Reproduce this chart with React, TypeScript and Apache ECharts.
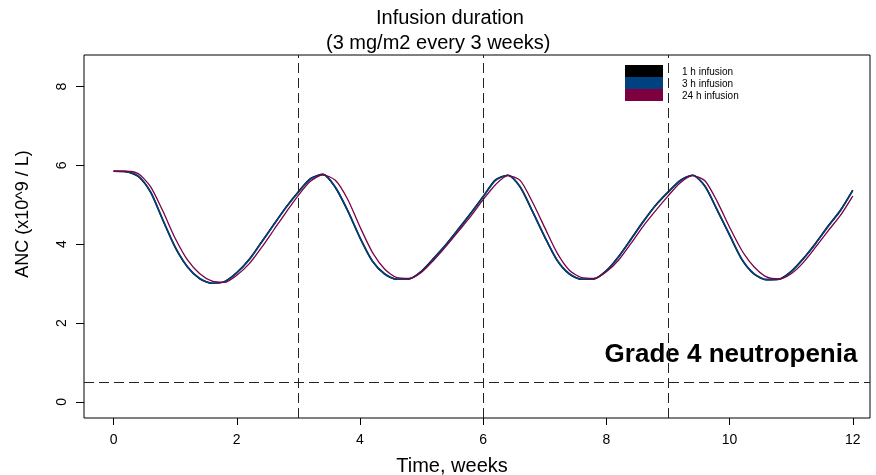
import { useEffect, useRef } from "react";
import * as echarts from "echarts";

const weeks = [
  0, 0.2, 0.4, 0.6, 0.8, 1, 1.2, 1.4, 1.6, 1.8, 2, 2.2, 2.4, 2.6, 2.8, 3, 3.2, 3.4, 3.6, 3.8,
  4, 4.2, 4.4, 4.6, 4.8, 5, 5.2, 5.4, 5.6, 5.8, 6, 6.2, 6.4, 6.6, 6.8, 7, 7.2, 7.4, 7.6, 7.8,
  8, 8.2, 8.4, 8.6, 8.8, 9, 9.2, 9.4, 9.6, 9.8, 10, 10.2, 10.4, 10.6, 10.8, 11, 11.2, 11.4, 11.6, 11.8,
  12,
];

const anc1h = [
  5.85, 5.84, 5.72, 5.32, 4.61, 3.92, 3.42, 3.12, 3.01, 3.05, 3.28, 3.61, 4.05, 4.5, 4.94, 5.33, 5.67, 5.77, 5.44, 4.85,
  4.16, 3.57, 3.24, 3.11, 3.12, 3.32, 3.65, 4.0, 4.39, 4.79, 5.21, 5.63, 5.75, 5.45, 4.83, 4.18, 3.59, 3.24, 3.11, 3.12,
  3.33, 3.69, 4.13, 4.58, 4.99, 5.32, 5.62, 5.75, 5.47, 4.86, 4.23, 3.61, 3.24, 3.1, 3.11, 3.31, 3.64, 4.03, 4.46, 4.86,
  5.37,
];

const anc3h = [
  5.85, 5.84, 5.73, 5.33, 4.62, 3.93, 3.43, 3.13, 3.01, 3.05, 3.27, 3.6, 4.04, 4.49, 4.93, 5.32, 5.66, 5.77, 5.45, 4.86,
  4.17, 3.58, 3.25, 3.11, 3.12, 3.31, 3.64, 3.99, 4.38, 4.78, 5.2, 5.62, 5.75, 5.46, 4.84, 4.19, 3.6, 3.25, 3.11, 3.12,
  3.32, 3.68, 4.12, 4.57, 4.98, 5.31, 5.61, 5.75, 5.48, 4.87, 4.24, 3.62, 3.25, 3.1, 3.11, 3.3, 3.63, 4.02, 4.45, 4.85,
  5.36,
];

const anc24h = [
  5.85, 5.85, 5.79, 5.46, 4.84, 4.15, 3.6, 3.25, 3.06, 3.03, 3.21, 3.5, 3.91, 4.36, 4.81, 5.24, 5.6, 5.76, 5.62, 5.14,
  4.44, 3.8, 3.37, 3.15, 3.13, 3.29, 3.6, 3.95, 4.33, 4.71, 5.13, 5.51, 5.74, 5.62, 5.07, 4.42, 3.78, 3.34, 3.15, 3.13,
  3.3, 3.6, 4.02, 4.46, 4.85, 5.22, 5.56, 5.74, 5.61, 5.08, 4.43, 3.84, 3.42, 3.17, 3.12, 3.25, 3.54, 3.93, 4.34, 4.73,
  5.22,
];

const seriesNames = ["1 h infusion", "3 h infusion", "24 h infusion"];
const seriesColors = ["#000000", "#00417F", "#7F0040"];
const doseTimes = [3, 6, 9];
const grade4Threshold = 0.5;
const xTicks = [0, 2, 4, 6, 8, 10, 12];
const yTicks = [0, 2, 4, 6, 8];

export default function App() {
  const ref = useRef<HTMLDivElement>(null);

  useEffect(() => {
    if (!ref.current) return;
    const chart = echarts.init(ref.current, null, { renderer: "svg" });
    const font = "'Liberation Sans', Arial, Helvetica, sans-serif";
    const valueSets = [anc1h, anc3h, anc24h];

    const markLineData: any[] = [
      ...doseTimes.map((t) => ({ xAxis: t })),
      { yAxis: grade4Threshold },
    ];

    chart.setOption({
      animation: false,
      textStyle: { fontFamily: font },
      title: [
        {
          text: "Infusion duration",
          left: 376,
          top: 7,
          padding: 0,
          textStyle: { fontSize: 20, fontWeight: "normal", color: "#000", fontFamily: font },
        },
        {
          text: "(3 mg/m2 every 3 weeks)",
          left: 326,
          top: 32,
          padding: 0,
          textStyle: { fontSize: 20, fontWeight: "normal", color: "#000", fontFamily: font },
        },
      ],
      legend: {
        orient: "vertical",
        left: 625,
        top: 65,
        padding: 0,
        itemGap: 0,
        itemWidth: 38,
        itemHeight: 12,
        icon: "rect",
        data: seriesNames,
        textStyle: {
          fontSize: 10,
          color: "#000",
          lineHeight: 12,
          padding: [0, 0, 0, 14],
          fontFamily: font,
        },
      },
      grid: {
        left: 84,
        top: 55,
        width: 786,
        height: 363,
        show: true,
        containLabel: false,
        outerBoundsMode: "none",
        borderColor: "#000",
        borderWidth: 1,
        backgroundColor: "transparent",
      },
      xAxis: {
        type: "value",
        min: -0.48,
        max: 12.28,
        name: "Time, weeks",
        nameLocation: "middle",
        nameGap: 37,
        nameTextStyle: { fontSize: 20, color: "#000", padding: [0, 50, 0, 0], fontFamily: font },
        axisLine: { show: false, onZero: false },
        axisTick: {
          show: true,
          inside: false,
          length: 7,
          lineStyle: { color: "#000" },
          customValues: xTicks,
        },
        axisLabel: { customValues: xTicks, fontSize: 14, color: "#000", margin: 14, fontFamily: font },
        splitLine: { show: false },
      },
      yAxis: {
        type: "value",
        min: -0.41,
        max: 8.8,
        name: "ANC (x10^9 / L)",
        nameLocation: "middle",
        nameGap: 53,
        nameTextStyle: { fontSize: 18, color: "#000", padding: [0, 0, 0, 45], fontFamily: font },
        axisLine: { show: false, onZero: false },
        axisTick: {
          show: true,
          inside: false,
          length: 8,
          lineStyle: { color: "#000" },
          customValues: yTicks,
        },
        axisLabel: {
          customValues: yTicks,
          rotate: 90,
          fontSize: 14,
          color: "#000",
          margin: 16,
          fontFamily: font,
        },
        splitLine: { show: false },
      },
      graphic: [
        {
          type: "text",
          x: 731,
          y: 353,
          style: {
            text: "Grade 4 neutropenia",
            fontSize: 26,
            fontWeight: "bold",
            fontFamily: font,
            fill: "#000",
            textAlign: "center",
            textVerticalAlign: "middle",
          },
        },
      ],
      series: seriesNames.map((name, si) => ({
        name,
        type: "line",
        data: weeks.map((w, i) => [w, valueSets[si][i]]),
        showSymbol: false,
        smooth: 0.25,
        color: seriesColors[si],
        itemStyle: { color: seriesColors[si] },
        lineStyle: { color: seriesColors[si], width: si === 2 ? 1.3 : 1.6 },
        z: 2 + si,
        markLine:
          si === 0
            ? {
                silent: true,
                symbol: ["none", "none"],
                label: { show: false },
                lineStyle: { color: "#222", width: 1, type: [10, 5] },
                data: markLineData,
              }
            : undefined,
      })),
    });

    return () => {
      chart.dispose();
    };
  }, []);

  return (
    <div
      ref={ref}
      style={{ position: "fixed", left: 0, top: 0, width: 876, height: 475 }}
    />
  );
}
